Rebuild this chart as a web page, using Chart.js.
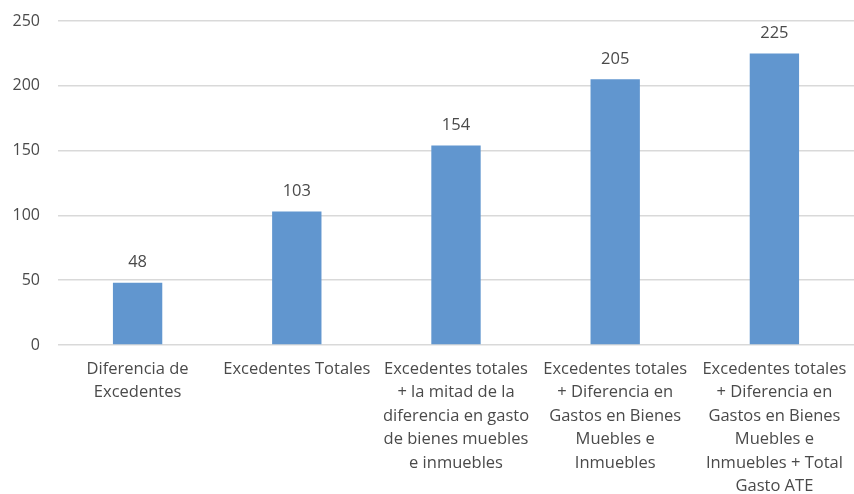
<!DOCTYPE html>
<html>
<head>
<meta charset="utf-8">
<script src="https://cdn.jsdelivr.net/npm/chart.js@4.4.1/dist/chart.umd.min.js"></script>
<style>
  html, body { margin: 0; padding: 0; background: #fff; }
  #wrap { width: 854px; height: 494px; }
</style>
</head>
<body>
<div id="wrap"><canvas id="barChart"></canvas></div>
<script>
var categories = [
    ['Diferencia de', 'Excedentes'],
    ['Excedentes Totales'],
    ['Excedentes totales', '+ la mitad de la', 'diferencia en gasto', 'de bienes muebles', 'e inmuebles'],
    ['Excedentes totales', '+ Diferencia en', 'Gastos en Bienes', 'Muebles e', 'Inmuebles'],
    ['Excedentes totales', '+ Diferencia en', 'Gastos en Bienes', 'Muebles e', 'Inmuebles + Total', 'Gasto ATE']
];
var values = [48, 103, 154, 205, 225];
var yTicks = [0, 50, 100, 150, 200, 250];

var fontFamily = "'Open Sans', 'Liberation Sans', sans-serif";
var textColor = '#4a4a4a';

// etiquetas de valor encima de cada barra
var valueLabels = {
    id: 'valueLabels',
    afterDatasetsDraw: function(chart) {
        var ctx = chart.ctx;
        var meta = chart.getDatasetMeta(0);
        ctx.save();
        ctx.font = '16.5px ' + fontFamily;
        ctx.fillStyle = textColor;
        ctx.textAlign = 'center';
        ctx.textBaseline = 'bottom';
        meta.data.forEach(function(bar, i) {
            ctx.fillText(values[i], bar.x, bar.y - 12);
        });
        ctx.restore();
    }
};

var barChart = new Chart(document.getElementById('barChart'), {
    type: 'bar',
    data: {
        labels: categories,
        datasets: [{
            data: values,
            backgroundColor: '#6196cf',
            barPercentage: 0.31,
            categoryPercentage: 1
        }]
    },
    options: {
        responsive: true,
        maintainAspectRatio: false,
        animation: false,
        layout: { padding: { top: 21, left: 0, right: 0, bottom: 0 } },
        plugins: {
            legend: { display: false },
            tooltip: { enabled: false }
        },
        scales: {
            x: {
                grid: { display: false },
                border: { display: false },
                ticks: {
                    color: textColor,
                    font: { family: fontFamily, size: 16.5, lineHeight: 1.43 },
                    maxRotation: 0,
                    autoSkip: false,
                    padding: 4
                },
                afterFit: function(scale) {
                    scale.height = 149;
                    scale.paddingLeft = 0;
                    scale.paddingRight = 0;
                }
            },
            y: {
                min: 0,
                max: 250,
                afterBuildTicks: function(scale) {
                    scale.ticks = yTicks.map(function(v) { return { value: v }; });
                },
                grid: { color: '#d9d9d9', lineWidth: 1.5, drawTicks: false },
                border: { display: false },
                ticks: {
                    color: textColor,
                    font: { family: fontFamily, size: 16 },
                    padding: 18
                },
                afterFit: function(scale) {
                    scale.width = 58;
                    scale.paddingTop = 0;
                    scale.paddingBottom = 0;
                }
            }
        }
    },
    plugins: [valueLabels]
});
</script>
</body>
</html>
